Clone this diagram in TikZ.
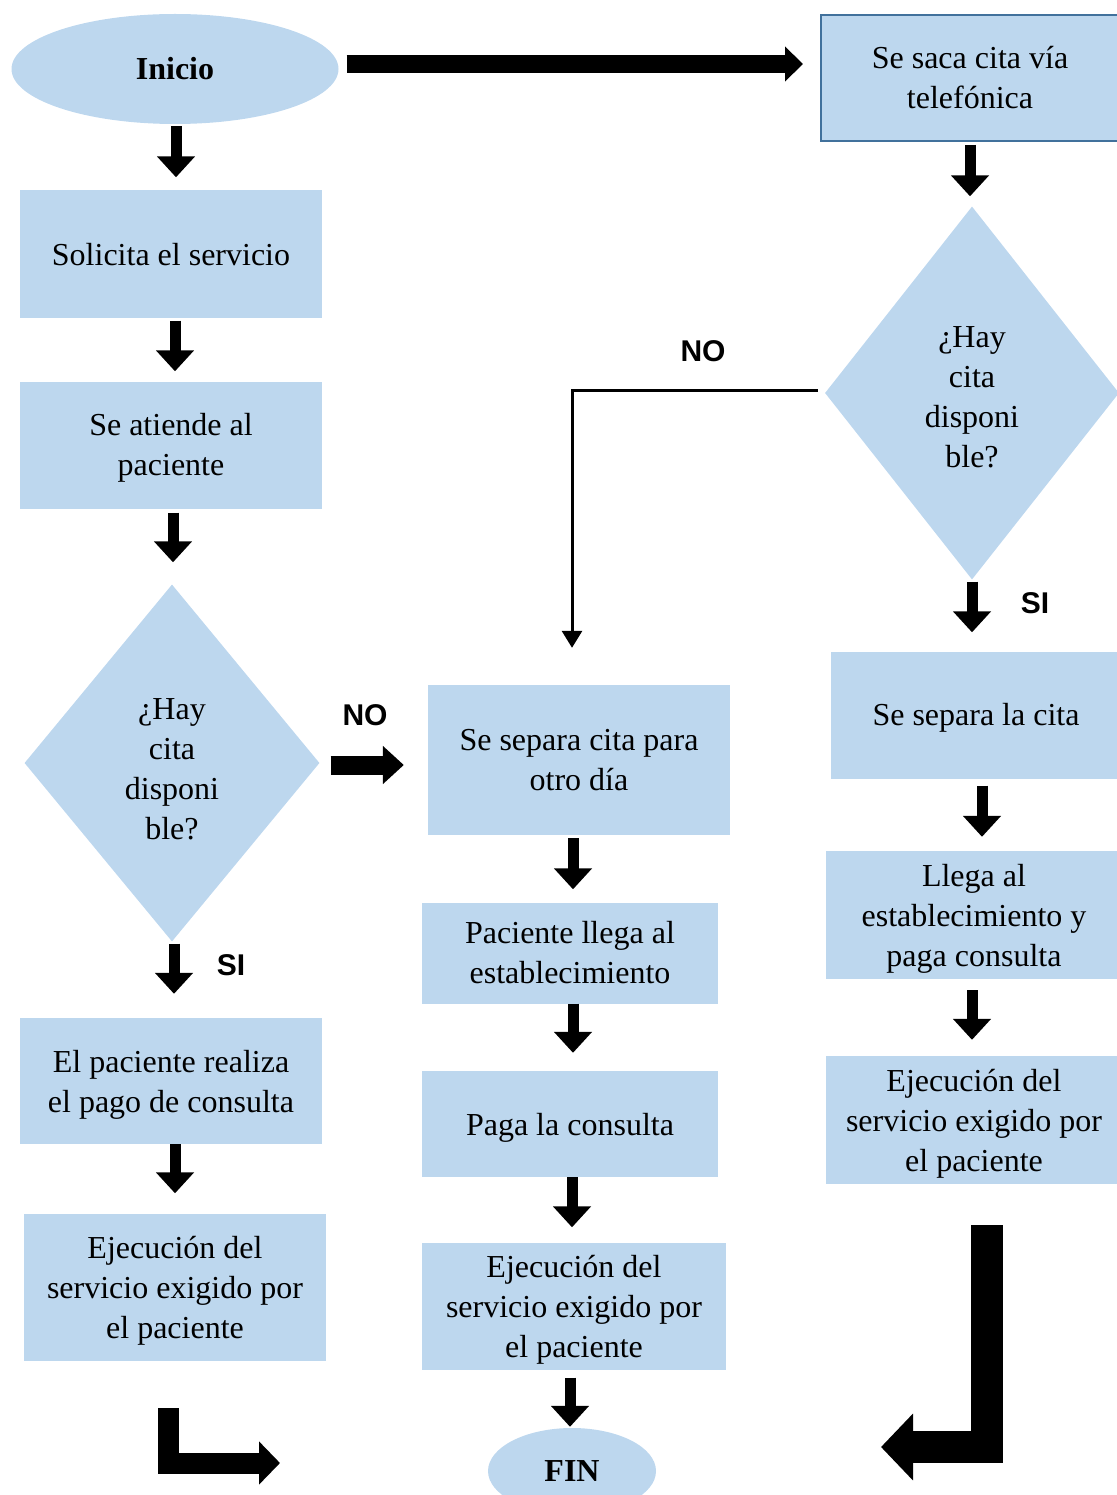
\documentclass[tikz,border=0pt]{standalone}
\usepackage{fontspec}
\setmainfont{Liberation Serif}
\setsansfont{Liberation Sans}
\usetikzlibrary{arrows.meta,shapes.geometric}
\definecolor{boxblue}{HTML}{BDD7EE}
\definecolor{lineblue}{HTML}{41719C}

\begin{document}
\begin{tikzpicture}[
    x=1pt, y=-1pt,
    every node/.style={font=\fontsize{32}{40}\selectfont},
    box/.style={rectangle, fill=boxblue, align=center, inner sep=4pt},
    dec/.style={diamond, fill=boxblue, align=center, inner sep=0pt},
    term/.style={ellipse, fill=boxblue, font=\fontsize{32}{40}\selectfont\bfseries},
    lbl/.style={font=\fontsize{30}{36}\selectfont\sffamily\bfseries},
    blk/.style={line width=11pt, -{Triangle[width=37pt,length=21pt]}},
    thin/.style={line width=3pt, -{Triangle[width=20pt,length=17pt]}}
]
    \useasboundingbox (0,0) rectangle (1116,1495);

    % Nodes
    \node[term, minimum width=327pt, minimum height=110pt] (ini) at (175,69) {Inicio};
    \node[box, draw=lineblue, line width=2pt, minimum width=298pt, minimum height=126pt] (tel) at (970,78) {Se saca cita vía\\telefónica};

    % Left column
    \node[box, text depth=-4pt, minimum width=302pt, minimum height=127pt] (solic) at (171,254) {Solicita el servicio};
    \node[box, text depth=1pt, minimum width=302pt, minimum height=127pt] (atiende) at (171,445) {Se atiende al\\paciente};
    \node[dec, minimum width=295pt, minimum height=357pt] (dl) at (172,763) {\rule{0pt}{33pt}¿Hay\\cita\\disponi\\ble?};
    \node[box, text depth=-1pt, minimum width=302pt, minimum height=126pt] (pago) at (171,1081) {El paciente realiza\\el pago de consulta};
    \node[box, text depth=-1pt, minimum width=302pt, minimum height=147pt] (ejl) at (175,1287) {Ejecución del\\servicio exigido por\\el paciente};

    % Middle column
    \node[box, minimum width=302pt, minimum height=150pt] (otro) at (579,760) {Se separa cita para\\otro día};
    \node[box, minimum width=296pt, minimum height=101pt] (llega) at (570,953) {Paciente llega al\\establecimiento};
    \node[box, text depth=-1pt, minimum width=296pt, minimum height=106pt] (paga) at (570,1124) {Paga la consulta};
    \node[box, text depth=-9pt, minimum width=304pt, minimum height=127pt] (ejm) at (574,1306) {Ejecución del\\servicio exigido por\\el paciente};
    \node[term, minimum width=168pt, minimum height=86pt] (fin) at (572,1471) {FIN};

    % Right column
    \node[dec, minimum width=294pt, minimum height=373pt] (dr) at (972,393) {\rule{0pt}{29pt}¿Hay\\cita\\disponi\\ble?};
    \node[box, text depth=1pt, minimum width=290pt, minimum height=127pt] (separa) at (976,715) {Se separa la cita};
    \node[box, text depth=-5pt, minimum width=296pt, minimum height=128pt] (llegar) at (974,915) {Llega al\\establecimiento y\\paga consulta};
    \node[box, text depth=-5pt, minimum width=296pt, minimum height=128pt] (ejr) at (974,1120) {Ejecución del\\servicio exigido por\\el paciente};

    % Labels
    \node[lbl] (no1) at (703,351) {NO};
    \node[lbl] (no2) at (365,715) {NO};
    \node[lbl] (si1) at (1035,603) {SI};
    \node[lbl] (si2) at (231,965) {SI};

    % Top arrow
    \draw[line width=18pt, -{Triangle[width=34pt,length=18pt]}, shorten <=8pt, shorten >=17pt]
        ([yshift=5pt]ini.east) -- ([yshift=5pt]ini.east -| tel.west);

    % Block arrows down
    \draw[blk, shorten <=2pt, shorten >=13pt] ([xshift=1pt]ini.south) -- ([xshift=1pt]ini.south |- solic.north);
    \draw[blk, shorten <=3pt, shorten >=10pt] ([xshift=4pt]solic.south) -- ([xshift=4pt]solic.south |- atiende.north);
    \draw[blk, shorten <=4pt, shorten >=22pt] ([xshift=2pt]atiende.south) -- ([xshift=2pt]atiende.south |- dl.north);
    \draw[blk, shorten <=2pt, shorten >=24pt] ([xshift=2pt]dl.south) -- ([xshift=2pt]dl.south |- pago.north);
    \draw[blk, shorten <=0pt, shorten >=20pt] ([xshift=4pt]pago.south) -- ([xshift=4pt]pago.south |- ejl.north);

    \draw[blk, shorten <=3pt, shorten >=13pt] ([xshift=-6pt]otro.south) -- ([xshift=-6pt]otro.south |- llega.north);
    \draw[blk, shorten <=0pt, shorten >=18pt] ([xshift=3pt]llega.south) -- ([xshift=3pt]llega.south |- paga.north);
    \draw[blk, shorten <=0pt, shorten >=15pt] ([xshift=2pt]paga.south) -- ([xshift=2pt]paga.south |- ejm.north);
    \draw[blk, shorten <=8pt, shorten >=1pt] ([xshift=-4pt]ejm.south) -- ([xshift=-4pt]ejm.south |- fin.north);

    \draw[blk, shorten <=3pt, shorten >=10pt] (tel.south) -- (tel.south |- dr.north);
    \draw[blk, shorten <=2pt, shorten >=19pt] (dr.south) -- (dr.south |- separa.north);
    \draw[blk, shorten <=7pt, shorten >=14pt] ([xshift=6pt]separa.south) -- ([xshift=6pt]separa.south |- llegar.north);
    \draw[blk, shorten <=11pt, shorten >=16pt] ([xshift=-2pt]llegar.south) -- ([xshift=-2pt]llegar.south |- ejr.north);

    % Decision arrows
    \draw[line width=19pt, -{Triangle[width=37pt,length=21pt]}, shorten <=11pt, shorten >=24pt]
        ([yshift=-2pt]dl.east) -- ([yshift=-2pt]dl.east -| otro.west);
    \draw[thin, line join=miter, shorten <=7pt, shorten >=37pt] ([yshift=3pt]dr.west) -| ([xshift=-7pt]otro.north);

    % Corner arrows
    \coordinate (cl) at (168.5,1408);
    \coordinate (cr) at (987,1225);
    \draw[line width=21pt, line join=miter, -{Triangle[width=42pt,length=21pt]}] (cl) |- (280,1463);
    \draw[line width=32pt, line join=miter, -{Triangle[width=65pt,length=32pt]}] (cr) |- (881,1447);
\end{tikzpicture}
\end{document}
